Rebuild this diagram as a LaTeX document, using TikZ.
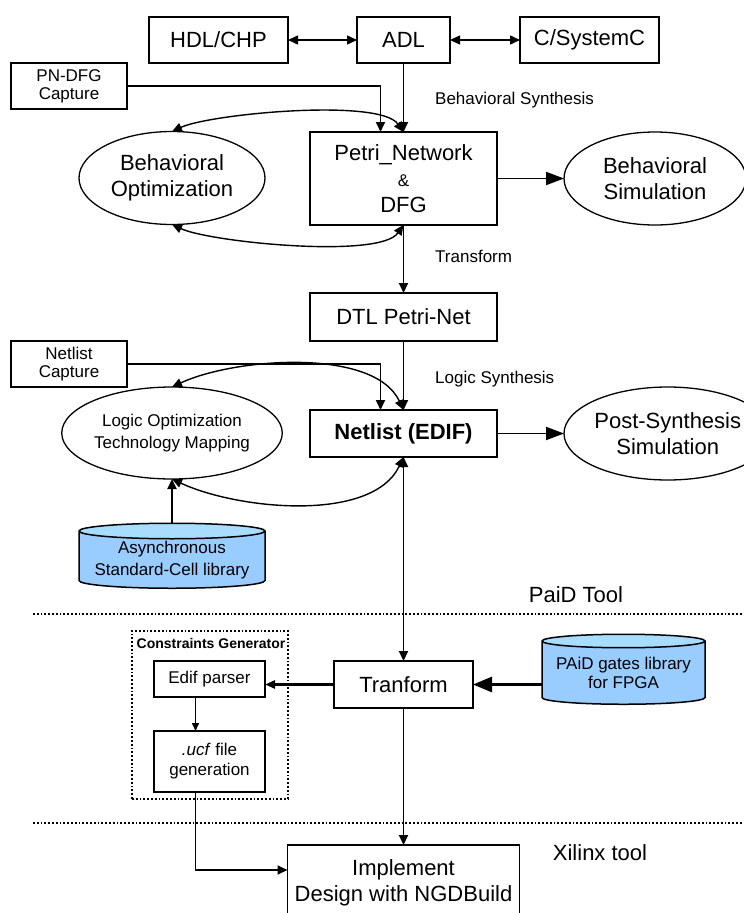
\documentclass[tikz,border=0pt]{standalone}
\usepackage{fontspec}
\setmainfont{Liberation Sans}
\usetikzlibrary{arrows.meta,positioning,shapes.geometric}
\definecolor{LibBody}{HTML}{99CCFF}
\definecolor{LibTop}{HTML}{A9DDFF}
\newcommand{\bigfont}{\fontsize{22}{26}\selectfont}
\newcommand{\smallfont}{\fontsize{17}{20}\selectfont}
\tikzset{
  toolbox/.style={draw,line width=1.9pt,align=center,inner sep=0pt,outer sep=0pt,font=\bigfont},
  capbox/.style={draw,line width=1.9pt,align=center,inner sep=0pt,outer sep=0pt,minimum width=116pt,minimum height=46pt,font=\fontsize{17}{18}\selectfont},
  subbox/.style={draw,line width=1.9pt,align=center,inner sep=0pt,outer sep=0pt,minimum width=111pt,font=\smallfont},
  stepellipse/.style={draw,ellipse,line width=1.3pt,align=center,inner sep=0pt,outer sep=0pt,minimum width=186pt,minimum height=93pt,font=\bigfont},
  libcyl/.style={draw,cylinder,shape border rotate=90,aspect=0.1,line width=1.5pt,cylinder uses custom fill,cylinder body fill=LibBody,cylinder end fill=LibTop,align=center,inner sep=0pt,outer sep=0pt,font=\smallfont},
  steplabel/.style={anchor=west,inner sep=0pt,font=\smallfont},
  flowarrow/.style={-{Triangle[length=10pt,width=9pt]},line width=1.9pt},
  smallarrow/.style={-{Triangle[length=8pt,width=7pt]},line width=1.5pt},
  bigarrow/.style={-{Triangle[length=18pt,width=13pt]},line width=1.9pt},
  heavyarrow/.style={-{Triangle[length=19pt,width=15pt]},line width=2.8pt},
  backarrow/.style={-{Triangle[length=10pt,width=8pt]},line width=2.8pt},
  twoway/.style={{Triangle[length=10pt,width=9pt]}-{Triangle[length=10pt,width=9pt]},line width=1.4pt},
  dualarrow/.style={{Triangle[length=10pt,width=9pt]}-{Triangle[length=10pt,width=9pt]},line width=1.9pt},
  sepline/.style={line width=1.8pt,dotted}
}
\begin{document}
\begin{tikzpicture}[x=1pt,y=1pt,node distance=69pt and 69pt]
\useasboundingbox (0,0) rectangle (744,-913);
\node[toolbox,minimum width=93pt,minimum height=46pt] (adl) at (403.5,-40) {ADL};
\node[toolbox,minimum width=139pt,minimum height=46pt,left=of adl] (hdl) {HDL/CHP};
\node[toolbox,minimum width=139pt,minimum height=46pt,right=70pt of adl] (csys) {C/SystemC};
\draw[twoway] (hdl) -- (adl);
\draw[twoway] (adl) -- (csys);

\node[capbox] (pncap) at (69,-86) {PN-DFG\\Capture};
\node[toolbox,minimum width=187pt,minimum height=93pt,below=of adl] (petri) {Petri\_Network\\{\smallfont\&}\\DFG};
\node[stepellipse] (bopt) at (172,-178) {Behavioral\\Optimization};
\node[stepellipse,minimum width=182pt,right=67pt of petri] (bsim) {Behavioral\\Simulation};
\node[steplabel] (bsyn) at (435,-100) {Behavioral Synthesis};
\draw[flowarrow] (adl) -- (petri);
\draw[flowarrow] (pncap.east) -| ([xshift=-23pt]petri.north);
\draw[twoway] (bopt.north) to[out=25,in=125,looseness=0.46] (petri.north);
\draw[twoway] (bopt.south) to[out=-25,in=-125,looseness=0.46] (petri.south);
\draw[bigarrow] (petri) -- (bsim);

\node[toolbox,minimum width=187pt,minimum height=48pt,below=68pt of petri] (dtl) {DTL Petri-Net};
\node[steplabel] (trlabel) at (435,-256) {Transform};
\draw[flowarrow] (petri) -- (dtl);

\node[capbox] (nlcap) at (69,-364) {Netlist\\Capture};
\node[toolbox,minimum width=187pt,minimum height=47pt,below=of dtl,font=\bigfont\bfseries] (netlist) {Netlist (EDIF)};
\node[stepellipse,minimum height=92pt,font=\fontsize{17}{22}\selectfont] (lopt) at (172,-433) {Logic Optimization\\Technology Mapping};
\node[stepellipse,minimum width=182pt,right=67pt of netlist] (psim) {Post-Synthesis\\Simulation};
\node[steplabel] (lsyn) at (435,-379) {Logic Synthesis};
\node[libcyl,minimum width=186pt,minimum height=65pt,font=\fontsize{17}{22}\selectfont] (async) at (172,-560) {Asynchronous\\Standard-Cell library};
\draw[flowarrow] (dtl) -- (netlist);
\draw[flowarrow] (nlcap.east) -| ([xshift=-23pt]netlist.north);
\draw[twoway] (lopt.north) to[out=25,in=115,looseness=0.76] (netlist.north);
\draw[twoway] (lopt.south) to[out=-25,in=-115,looseness=0.8] (netlist.south);
\draw[bigarrow] (netlist) -- (psim);
\draw[flowarrow] (async) -- (lopt);

\node[inner sep=0pt,font=\bigfont] (paidtool) at (576,-595) {PaiD Tool};
\draw[sepline] (33,-614) -- (744,-614);

\node[draw,dotted,line width=1.8pt,minimum width=156pt,minimum height=168pt] (cgen) at (210,-715) {};
\node[inner sep=0pt,font=\fontsize{14}{16}\selectfont\bfseries] (cgentitle) at (211,-643) {Constraints Generator};
\node[subbox,minimum height=36pt] (edif) at (209.5,-679) {Edif parser};
\node[subbox,minimum height=61pt] (ucf) at (209.5,-761.5) {\textit{.ucf} file\\generation};
\node[toolbox,minimum width=139pt,minimum height=47pt,below=204pt of netlist] (tranform) {Tranform};
\node[libcyl,minimum width=163pt,minimum height=70pt,font=\fontsize{17}{19}\selectfont] (paid) at (623.5,-673) {PAiD gates library\\for FPGA};
\draw[dualarrow] (netlist) -- (tranform);
\draw[backarrow] (tranform.west) -- (tranform.west -| edif.east);
\draw[heavyarrow] (tranform.east -| paid.west) -- (tranform.east);
\draw[smallarrow] ([xshift=-14pt]edif.south) -- ([xshift=-14pt]ucf.north);

\draw[sepline] (33,-823) -- (744,-823);
\node[inner sep=0pt,font=\bigfont] (xilinx) at (600,-853) {Xilinx tool};
\node[toolbox,minimum width=232pt,minimum height=76pt,below=137pt of tranform] (impl) {Implement\\Design with NGDBuild};
\draw[flowarrow] (tranform) -- (impl);
\draw[flowarrow] ([xshift=-14pt]ucf.south) |- ([yshift=13pt]impl.west);
\end{tikzpicture}
\end{document}
